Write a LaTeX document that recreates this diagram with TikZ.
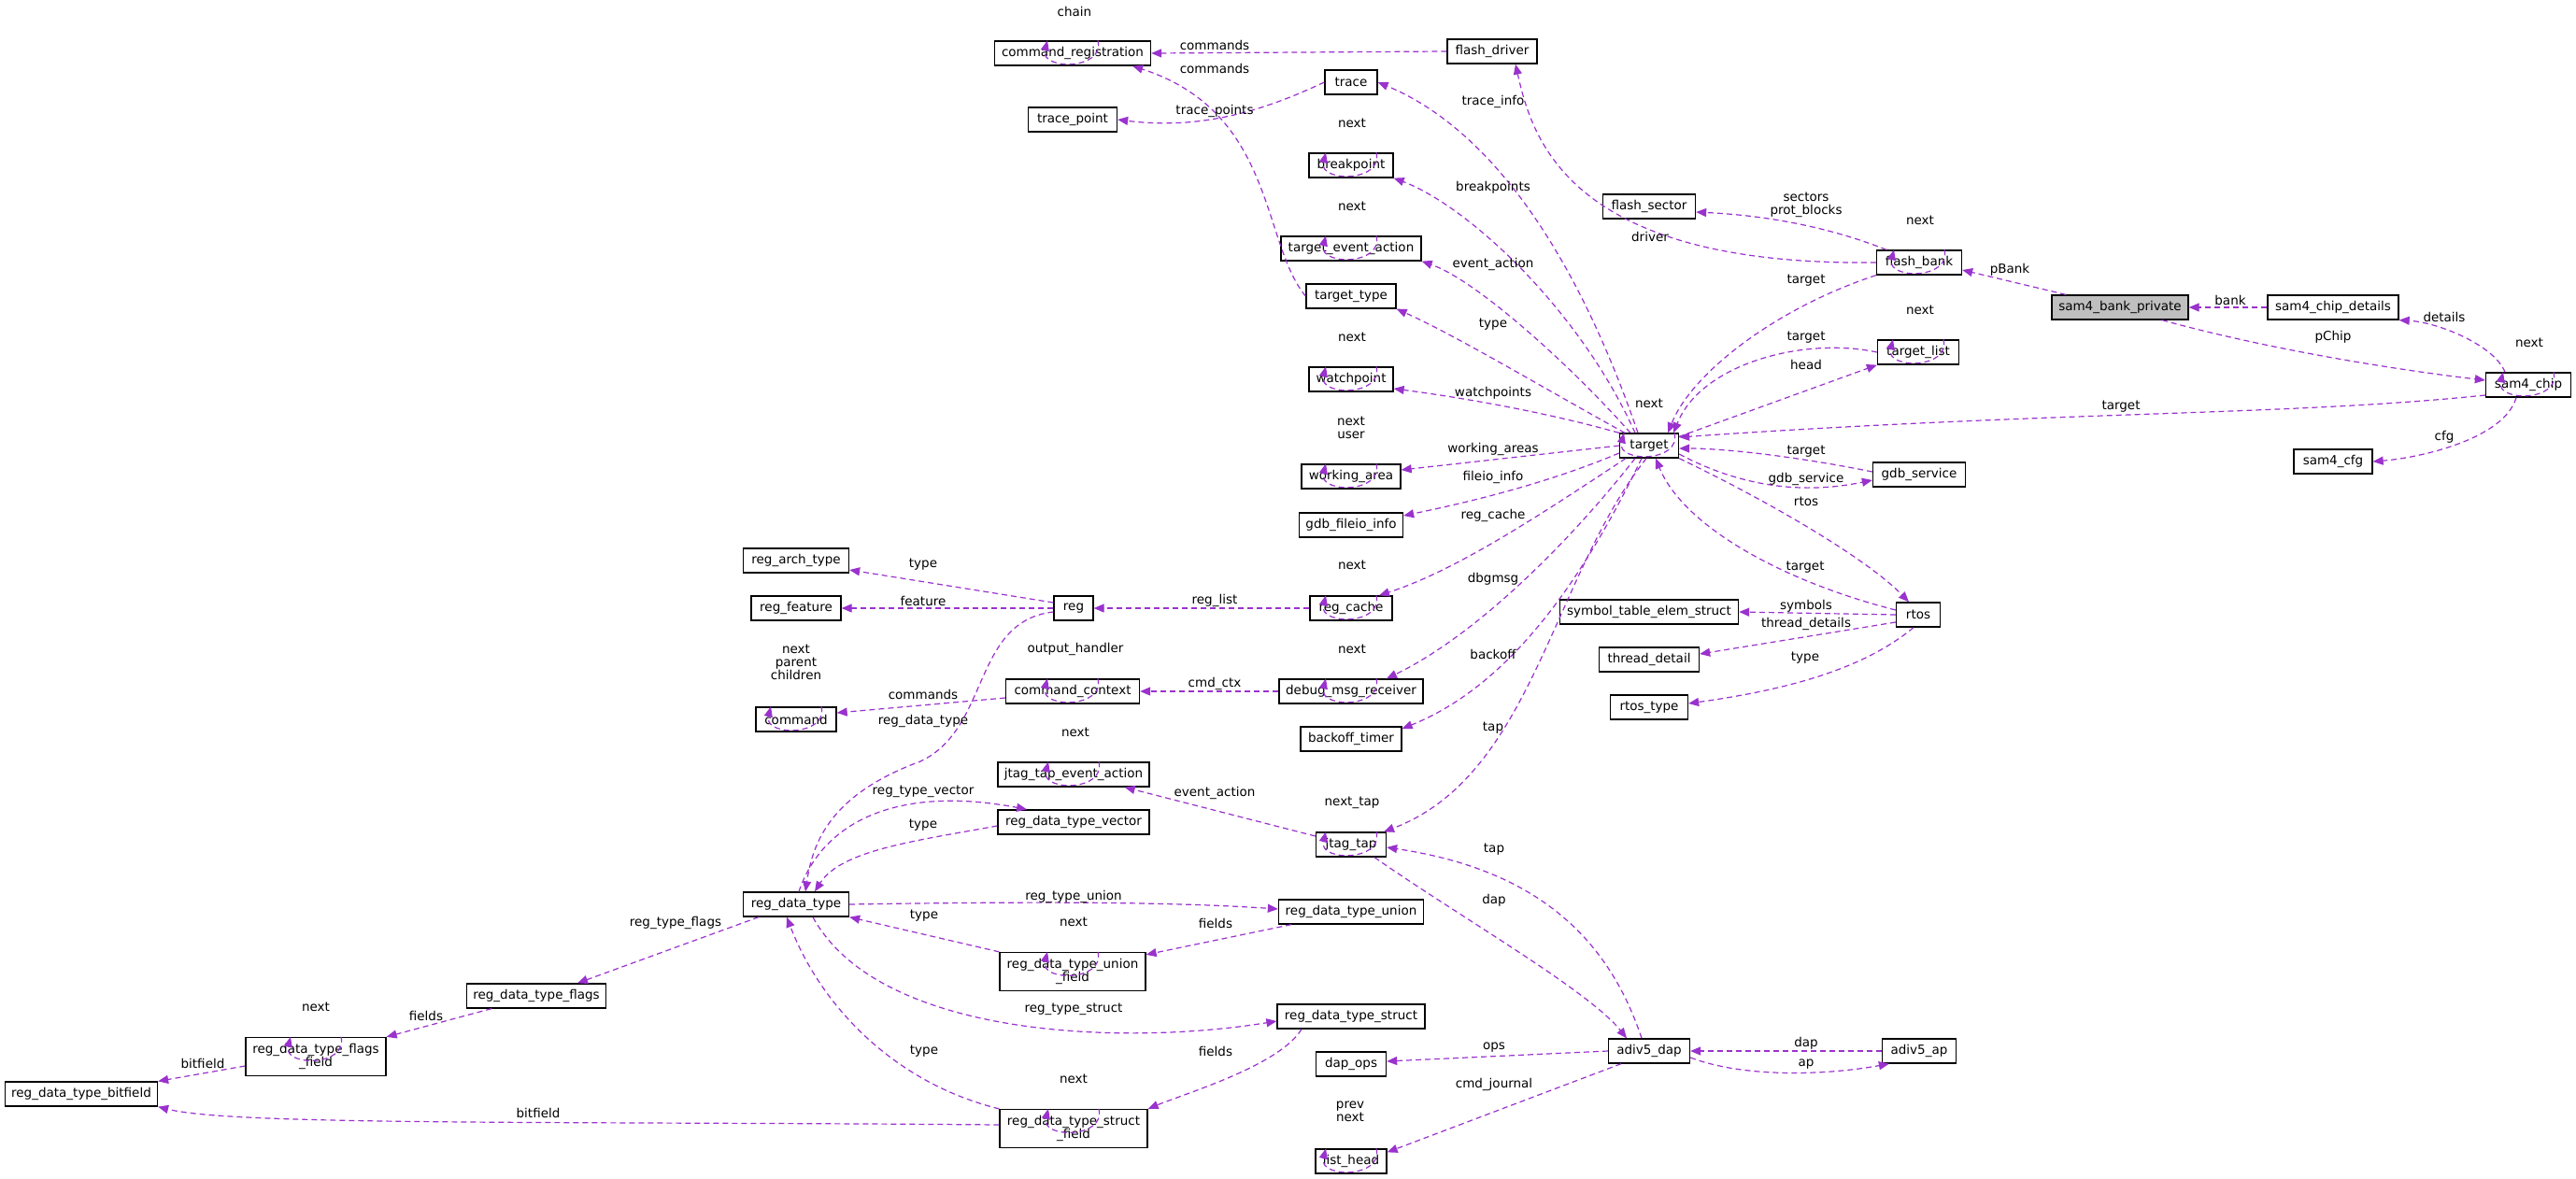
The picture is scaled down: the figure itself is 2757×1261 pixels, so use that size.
\documentclass[tikz,border=0pt]{standalone}
\usepackage{fontspec}
\setmainfont{DejaVu Sans}
\usetikzlibrary{arrows.meta}
\definecolor{edgec}{HTML}{9A32CD}
\definecolor{grayfill}{HTML}{BFBFBF}
\newcommand\myloop[1]{\draw[edge] ([xshift=27pt]#1.north) .. controls +(8,32) and +(-8,32) .. ([xshift=-27pt]#1.north);}
\tikzset{
  cls/.style={draw=black, line width=1.3pt, inner sep=0pt, minimum height=26pt, fill=white, font=\fontsize{13.5}{14}\selectfont, align=center},
  tall/.style={minimum height=41pt},
  lbl/.style={inner sep=0pt, font=\fontsize{13.5}{14}\selectfont, align=center},
  edge/.style={draw=edgec, line width=1.2pt, dash pattern=on 6pt off 4pt, -{Triangle[length=11pt,width=9pt]}}
}
\begin{document}
\begin{tikzpicture}[x=1pt,y=-1pt]
\useasboundingbox[fill=white] (0,0) rectangle (2757,1261);
% nodes
\node[cls,minimum width=167] (cr) at (1148,57) {command\_registration};
\node[cls,minimum width=96] (fd) at (1597,55) {flash\_driver};
\node[cls,minimum width=56] (tr) at (1446,88) {trace};
\node[cls,minimum width=95] (tp) at (1148,128) {trace\_point};
\node[cls,minimum width=90] (bp) at (1446,177) {breakpoint};
\node[cls,minimum width=99] (fs) at (1765,221) {flash\_sector};
\node[cls,minimum width=150] (tea) at (1446,266) {target\_event\_action};
\node[cls,minimum width=96] (tt) at (1446,317) {target\_type};
\node[cls,minimum width=90] (wp) at (1446,406) {watchpoint};
\node[cls,minimum width=91] (fb) at (2054,281) {flash\_bank};
\node[cls,minimum width=146,fill=grayfill] (sbp) at (2269,329) {sam4\_bank\_private};
\node[cls,minimum width=140] (scd) at (2497,329) {sam4\_chip\_details};
\node[cls,minimum width=87] (tl) at (2053,377) {target\_list};
\node[cls,minimum width=91] (sc) at (2706,412) {sam4\_chip};
\node[cls,minimum width=63] (tg) at (1765,477) {target};
\node[cls,minimum width=84] (cfg) at (2497,494) {sam4\_cfg};
\node[cls,minimum width=99] (gs) at (2054,508) {gdb\_service};
\node[cls,minimum width=106] (wa) at (1446,510) {working\_area};
\node[cls,minimum width=111] (gfi) at (1446,562) {gdb\_fileio\_info};
\node[cls,minimum width=113] (rat) at (852,600) {reg\_arch\_type};
\node[cls,minimum width=96] (rf) at (852,651) {reg\_feature};
\node[cls,minimum width=42] (reg) at (1149,651) {reg};
\node[cls,minimum width=88] (rc) at (1446,651) {reg\_cache};
\node[cls,minimum width=191] (ste) at (1765,655) {symbol\_table\_elem\_struct};
\node[cls,minimum width=47] (rtos) at (2053,658) {rtos};
\node[cls,minimum width=107] (td) at (1765,706) {thread\_detail};
\node[cls,minimum width=86] (cmd) at (852,770) {command};
\node[cls,minimum width=143] (cc) at (1148,740) {command\_context};
\node[cls,minimum width=154] (dmr) at (1446,740) {debug\_msg\_receiver};
\node[cls,minimum width=83] (rt) at (1765,757) {rtos\_type};
\node[cls,minimum width=108] (bt) at (1446,791) {backoff\_timer};
\node[cls,minimum width=162] (jtea) at (1149,829) {jtag\_tap\_event\_action};
\node[cls,minimum width=162] (rdtv) at (1149,880) {reg\_data\_type\_vector};
\node[cls,minimum width=75] (jt) at (1446,904) {jtag\_tap};
\node[cls,minimum width=113] (rdt) at (852,968) {reg\_data\_type};
\node[cls,minimum width=155] (rdtu) at (1446,976) {reg\_data\_type\_union};
\node[cls,tall,minimum width=156] (rduf) at (1148,1040) {reg\_data\_type\_union\\\_field};
\node[cls,minimum width=149] (rdtf) at (574,1066) {reg\_data\_type\_flags};
\node[cls,minimum width=158] (rdts) at (1446,1088) {reg\_data\_type\_struct};
\node[cls,tall,minimum width=150] (rdff) at (338,1131) {reg\_data\_type\_flags\\\_field};
\node[cls,minimum width=75] (dops) at (1446,1139) {dap\_ops};
\node[cls,minimum width=163] (rdb) at (87,1171) {reg\_data\_type\_bitfield};
\node[cls,minimum width=87] (ad) at (1765,1125) {adiv5\_dap};
\node[cls,minimum width=79] (ap) at (2054,1125) {adiv5\_ap};
\node[cls,tall,minimum width=158] (rdsf) at (1149,1208) {reg\_data\_type\_struct\\\_field};
\node[cls,minimum width=76] (lh) at (1446,1243) {list\_head};
% self loops
\myloop{cr}\myloop{bp}\myloop{tea}\myloop{wp}\myloop{wa}\myloop{rc}\myloop{cc}\myloop{dmr}
\myloop{cmd}\myloop{jtea}\myloop{jt}\myloop{rduf}\myloop{rdff}\myloop{rdsf}\myloop{lh}
\myloop{fb}\myloop{tl}\myloop{sc}\myloop{tg}
% edges
\draw[edge] (fd.west) -- (cr.east);
\draw[edge] (tt.west) .. controls (1350,260) and (1365,120) .. ([xshift=-20pt]cr.south east);
\draw[edge] (tr.west) .. controls (1360,115) and (1290,140) .. (tp.east);
\draw[edge] ([xshift=-12pt]tg.north) .. controls (1690,280) and (1600,140) .. (tr.east);
\draw[edge] (fb.west) .. controls (1680,285) and (1640,150) .. ([xshift=25pt]fd.south);
\draw[edge] ([xshift=-15pt]tg.north) .. controls (1690,330) and (1570,220) .. (bp.south east);
\draw[edge] ([xshift=-20pt]tg.north) .. controls (1680,390) and (1580,300) .. (tea.south east);
\draw[edge] ([xshift=-26pt]tg.north) .. controls (1660,420) and (1560,360) .. (tt.south east);
\draw[edge] (tg.north west) .. controls (1650,440) and (1560,425) .. ([yshift=-10pt]wp.east);
\draw[edge] (tg.west) -- ([yshift=7pt]wa.east);
\draw[edge] ([yshift=-8pt]tg.west) .. controls (1650,520) and (1560,540) .. ([yshift=10pt]gfi.east);
\draw[edge] ([xshift=-25pt]tg.south) .. controls (1650,550) and (1560,610) .. ([xshift=30pt]rc.north);
\draw[edge] ([xshift=-15pt]tg.south) .. controls (1680,580) and (1580,680) .. ([xshift=38pt]dmr.north);
\draw[edge] ([xshift=-8pt]tg.south) .. controls (1680,650) and (1600,740) .. ([yshift=11pt]bt.east);
\draw[edge] ([xshift=-3pt]tg.south) .. controls (1660,620) and (1640,830) .. ([xshift=35pt]jt.north);
\draw[edge] (fb.south west) .. controls (1900,330) and (1810,400) .. ([xshift=-12pt]tg.north east);
\draw[edge] (tl.west) .. controls (1930,360) and (1820,390) .. ([xshift=-6pt]tg.north east);
\draw[edge] ([yshift=-4pt]tg.north east) -- (tl.south west);
\draw[edge] ([yshift=-11pt]sc.west) .. controls (2450,445) and (2200,440) .. ([yshift=9pt]tg.east);
\draw[edge] ([yshift=3pt]gs.west) .. controls (1930,490) and (1850,480) .. ([yshift=-3pt]tg.east);
\draw[edge] ([yshift=-9pt]tg.east) .. controls (1880,530) and (1950,525) .. ([yshift=-6pt]gs.west);
\draw[edge] (tg.south east) .. controls (1900,540) and (2000,600) .. ([xshift=-10pt]rtos.north);
\draw[edge] ([yshift=5pt]rtos.west) .. controls (1900,620) and (1800,560) .. ([xshift=7pt]tg.south);
\draw[edge] ([xshift=-58pt]sbp.north) -- ([yshift=-8pt]fb.east);
\draw[edge] (scd.west) -- (sbp.east);
\draw[edge] ([xshift=45pt]sbp.south) .. controls (2450,380) and (2600,400) .. ([yshift=5pt]sc.west);
\draw[edge] ([xshift=-25pt]sc.north) .. controls (2670,370) and (2610,345) .. (scd.south east);
\draw[edge] ([xshift=-13pt]sc.south) .. controls (2680,470) and (2590,490) .. (cfg.east);
\draw[edge] ([xshift=-35pt]fb.north) .. controls (1950,240) and (1880,230) .. ([yshift=-6pt]fs.east);
\draw[edge] (rc.west) -- (reg.east);
\draw[edge] ([yshift=6pt]reg.west) -- ([yshift=-10pt]rat.east);
\draw[edge] (reg.west) -- (rf.east);
\draw[edge] ([yshift=-4pt]reg.west) .. controls (1040,665) and (1060,780) .. (985,815) .. controls (890,850) and (870,900) .. ([xshift=10pt]rdt.north);
\draw[edge] ([xshift=3pt]rdt.north) .. controls (880,880) and (960,840) .. ([xshift=-50pt]rdtv.north);
\draw[edge] ([yshift=-4pt]rdtv.west) .. controls (980,900) and (900,910) .. ([xshift=20pt]rdt.north);
\draw[edge] ([yshift=-7pt]cc.west) -- ([yshift=7pt]cmd.east);
\draw[edge] (dmr.west) -- (cc.east);
\draw[edge] ([yshift=9pt]jt.west) -- ([xshift=-27pt]jtea.south east);
\draw[edge] (rdt.east) .. controls (1100,965) and (1250,965) .. ([yshift=3pt]rdtu.west);
\draw[edge] ([xshift=-64pt]rdtu.south) -- ([yshift=-3pt]rduf.north east);
\draw[edge] (rduf.north west) -- (rdt.south east);
\draw[edge] ([xshift=-40pt]rdt.south) -- ([xshift=44pt]rdtf.north);
\draw[edge] ([xshift=-48pt]rdtf.south) -- (rdff.north east);
\draw[edge] ([yshift=-10pt]rdff.west) -- (rdb.north east);
\draw[edge] ([xshift=18pt]rdt.south) .. controls (940,1110) and (1200,1120) .. ([yshift=-5pt]rdts.west);
\draw[edge] ([xshift=-53pt]rdts.south) .. controls (1370,1140) and (1270,1170) .. (rdsf.north east);
\draw[edge] (rdsf.north west) .. controls (960,1160) and (880,1080) .. ([xshift=-10pt]rdt.south);
\draw[edge] ([yshift=4pt]rdsf.west) .. controls (600,1200) and (250,1205) .. (rdb.south east);
\draw[edge] ([xshift=25pt]jt.south) .. controls (1560,980) and (1700,1060) .. ([xshift=-24pt]ad.north);
\draw[edge] ([xshift=-8pt]ad.north) .. controls (1720,1000) and (1640,930) .. ([yshift=-3pt]jt.east);
\draw[edge] (ad.west) -- ([yshift=3pt]dops.east);
\draw[edge] ([xshift=-30pt]ad.south) -- ([yshift=-4pt]lh.north east);
\draw[edge] (ap.west) -- (ad.east);
\draw[edge] ([yshift=-7pt]ad.east) .. controls (1870,1155) and (1960,1150) .. ([xshift=8pt]ap.south west);
\draw[edge] (rtos.west) -- (ste.east);
\draw[edge] ([yshift=-8pt]rtos.west) -- ([yshift=6pt]td.east);
\draw[edge] ([xshift=-5pt]rtos.south) .. controls (1990,720) and (1900,740) .. ([yshift=4pt]rt.east);
% loop labels
\node[lbl] (l1) at (1150,12) {chain};
\node[lbl] (l2) at (1447,132) {next};
\node[lbl] (l3) at (1447,221) {next};
\node[lbl] (l4) at (1447,361) {next};
\node[lbl] (l5) at (1446,458) {next\\user};
\node[lbl] (l6) at (1447,605) {next};
\node[lbl] (l7) at (1151,695) {output\_handler};
\node[lbl] (l8) at (1447,695) {next};
\node[lbl] (l9) at (852,709) {next\\parent\\children};
\node[lbl] (l10) at (1151,784) {next};
\node[lbl] (l11) at (1447,859) {next\_tap};
\node[lbl] (l12) at (1149,987) {next};
\node[lbl] (l13) at (338,1078) {next};
\node[lbl] (l14) at (1149,1155) {next};
\node[lbl] (l15) at (1445,1190) {prev\\next};
\node[lbl] (l16) at (2055,236) {next};
\node[lbl] (l17) at (2055,332) {next};
\node[lbl] (l18) at (2707,367) {next};
\node[lbl] (l19) at (1765,432) {next};
% edge labels
\node[lbl] at (1300,48) {commands};
\node[lbl] at (1300,73) {commands};
\node[lbl] at (1300,119) {trace\_points};
\node[lbl] at (1598,109) {trace\_info};
\node[lbl] at (1598,201) {breakpoints};
\node[lbl] at (1766,253) {driver};
\node[lbl] at (1598,283) {event\_action};
\node[lbl] at (1598,347) {type};
\node[lbl] at (1598,421) {watchpoints};
\node[lbl] at (1598,481) {working\_areas};
\node[lbl] at (1598,511) {fileio\_info};
\node[lbl] at (1598,552) {reg\_cache};
\node[lbl] at (1598,620) {dbgmsg};
\node[lbl] at (1598,700) {backoff};
\node[lbl] at (1598,779) {tap};
\node[lbl] at (1933,219) {sectors\\prot\_blocks};
\node[lbl] at (2151,289) {pBank};
\node[lbl] at (1933,300) {target};
\node[lbl] at (2387,321) {bank};
\node[lbl] at (2616,339) {details};
\node[lbl] at (2497,361) {pChip};
\node[lbl] at (1933,361) {target};
\node[lbl] at (1933,390) {head};
\node[lbl] at (2270,435) {target};
\node[lbl] at (2616,468) {cfg};
\node[lbl] at (1933,483) {target};
\node[lbl] at (1933,513) {gdb\_service};
\node[lbl] at (1933,537) {rtos};
\node[lbl] at (1932,607) {target};
\node[lbl] at (1933,649) {symbols};
\node[lbl] at (1933,668) {thread\_details};
\node[lbl] at (1932,704) {type};
\node[lbl] at (988,604) {type};
\node[lbl] at (988,643) {feature};
\node[lbl] at (1300,643) {reg\_list};
\node[lbl] at (988,743) {commands};
\node[lbl] at (988,772) {reg\_data\_type};
\node[lbl] at (1300,732) {cmd\_ctx};
\node[lbl] at (988,847) {reg\_type\_vector};
\node[lbl] at (1300,849) {event\_action};
\node[lbl] at (988,883) {type};
\node[lbl] at (1599,909) {tap};
\node[lbl] at (1599,964) {dap};
\node[lbl] at (1149,960) {reg\_type\_union};
\node[lbl] at (989,980) {type};
\node[lbl] at (723,988) {reg\_type\_flags};
\node[lbl] at (1301,988) {fields};
\node[lbl] at (1149,1080) {reg\_type\_struct};
\node[lbl] at (456,1087) {fields};
\node[lbl] at (217,1138) {bitfield};
\node[lbl] at (989,1125) {type};
\node[lbl] at (1301,1125) {fields};
\node[lbl] at (1599,1121) {ops};
\node[lbl] at (1599,1161) {cmd\_journal};
\node[lbl] at (576,1191) {bitfield};
\node[lbl] at (1933,1117) {dap};
\node[lbl] at (1933,1139) {ap};
\end{tikzpicture}
\end{document}
